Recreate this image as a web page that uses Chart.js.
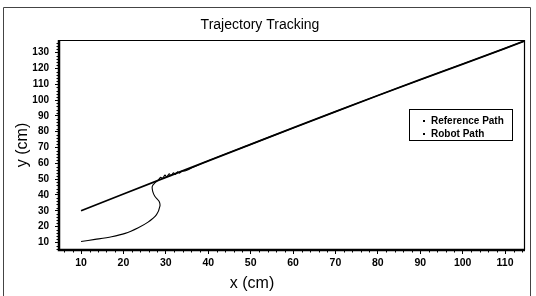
<!DOCTYPE html>
<html>
<head>
<meta charset="utf-8">
<script src="https://cdn.jsdelivr.net/npm/chart.js@4/dist/chart.umd.min.js"></script>
<style>
    html, body { margin: 0; padding: 0; background: #fff; }
    #wrap { position: relative; width: 536px; height: 296px; }
</style>
</head>
<body>
<div id="wrap"><canvas id="traj-chart" width="536" height="296"></canvas></div>
<script>
// Data
const chartTitle = 'Trajectory Tracking';
const xTitle = 'x (cm)';
const yTitle = 'y (cm)';
const seriesNames = ['Reference Path', 'Robot Path'];

const xTicks = [10, 20, 30, 40, 50, 60, 70, 80, 90, 100, 110];
const yTicks = [10, 20, 30, 40, 50, 60, 70, 80, 90, 100, 110, 120, 130];

const refX = [10, 20, 30, 40, 50, 60, 70, 80, 90, 100, 110, 114.7];
const refY = [30, 40.6, 51.1, 61.6, 72, 82.4, 92.7, 102.9, 112.9, 122.8, 132.7, 137.5];

const robotX = [10, 13.3, 17.2, 20.4, 23.5, 25.8, 27.8, 28.6, 28.4, 27.4, 26.9, 26.8, 27.4,
    28.2, 28.8, 29.2, 29.8, 30.2, 30.8, 31.2, 31.8, 32.2, 32.8, 33.2, 33.8, 34.5, 35.5,
    40, 50, 60, 70, 80, 90, 100, 110, 114.7];
const robotY = [10.6, 11.9, 13.6, 15.7, 19.3, 22.8, 27.6, 32.9, 36, 39.2, 42.3, 45.5, 47.6,
    49.4, 51.2, 50.4, 52.6, 51.4, 53.4, 52.2, 54, 53, 54.6, 53.8, 55.2, 55.2, 56.3,
    61.6, 72, 82.4, 92.7, 102.9, 112.9, 122.8, 132.7, 137.5];

const FONT = '"Liberation Sans", Arial, sans-serif';

function toPoints(xs, ys) {
    return xs.map((x, i) => ({ x: x, y: ys[i] }));
}

// Frame, plot border, minor ticks, titles and legend box
const decorPlugin = {
    id: 'decor',
    afterDraw(chart) {
        const ctx = chart.ctx;
        const a = chart.chartArea;
        const xs = chart.scales.x;
        const ys = chart.scales.y;
        ctx.save();

        // outer frame
        ctx.lineWidth = 1;
        ctx.strokeStyle = '#444';
        ctx.beginPath();
        ctx.moveTo(3.5, 296); ctx.lineTo(3.5, 7.5); ctx.lineTo(530.5, 7.5); ctx.lineTo(530.5, 296);
        ctx.stroke();

        // plot border
        ctx.strokeStyle = '#000';
        ctx.lineWidth = 1.2;
        ctx.beginPath();
        ctx.moveTo(a.left, a.top + 0.5); ctx.lineTo(a.right - 0.5, a.top + 0.5); ctx.lineTo(a.right - 0.5, a.bottom);
        ctx.stroke();
        ctx.lineWidth = 2.5;
        ctx.beginPath();
        ctx.moveTo(a.left, a.top); ctx.lineTo(a.left, a.bottom); ctx.lineTo(a.right, a.bottom);
        ctx.stroke();

        // minor ticks
        ctx.lineWidth = 1;
        ctx.beginPath();
        for (let v = 6; v <= 114; v += 2) {
            if (v % 10 === 0) continue;
            const px = Math.round(xs.getPixelForValue(v)) + 0.5;
            ctx.moveTo(px, a.bottom); ctx.lineTo(px, a.bottom + 2.5);
        }
        for (let v = 6; v <= 136; v += 2) {
            if (v % 10 === 0) continue;
            const py = Math.round(ys.getPixelForValue(v)) + 0.5;
            ctx.moveTo(a.left, py); ctx.lineTo(a.left - 2.5, py);
        }
        ctx.stroke();

        // titles
        ctx.fillStyle = '#000';
        ctx.textAlign = 'center';
        ctx.textBaseline = 'middle';
        ctx.font = '14px ' + FONT;
        ctx.fillText(chartTitle, 260, 25);
        ctx.font = '16px ' + FONT;
        ctx.fillText(xTitle, 252, 284);
        ctx.save();
        ctx.translate(23, (a.top + a.bottom) / 2);
        ctx.rotate(-Math.PI / 2);
        ctx.fillText(yTitle, 0, 0);
        ctx.restore();

        // legend
        ctx.lineWidth = 1;
        ctx.strokeRect(409.5, 109.5, 103, 31);
        ctx.font = 'bold 10px ' + FONT;
        ctx.textAlign = 'left';
        seriesNames.forEach((name, i) => {
            const y = 121 + i * 13;
            ctx.fillRect(423, y - 1, 2, 2);
            ctx.fillText(name, 431, y);
        });
        ctx.restore();
    }
};

function initializeChart() {
    const ctx = document.getElementById('traj-chart').getContext('2d');
    return new Chart(ctx, {
        type: 'scatter',
        data: {
            datasets: [
                {
                    label: seriesNames[0],
                    data: toPoints(refX, refY),
                    showLine: true,
                    borderColor: '#000',
                    borderWidth: 1.8,
                    pointRadius: 0,
                    tension: 0
                },
                {
                    label: seriesNames[1],
                    data: toPoints(robotX, robotY),
                    showLine: true,
                    borderColor: '#000',
                    borderWidth: 1.1,
                    pointRadius: 0,
                    tension: 0.3
                }
            ]
        },
        options: {
            responsive: false,
            animation: false,
            layout: { padding: { left: 0, right: 11, top: 40, bottom: 0 } },
            plugins: {
                legend: { display: false },
                title: { display: false },
                tooltip: { enabled: false }
            },
            scales: {
                x: {
                    type: 'linear',
                    min: 4.8,
                    max: 114.7,
                    afterBuildTicks: (s) => { s.ticks = xTicks.map(v => ({ value: v })); },
                    afterFit: (s) => { s.height = 46; },
                    border: { display: false },
                    grid: { drawOnChartArea: false, drawTicks: true, tickLength: 4, color: '#000' },
                    ticks: { color: '#000', font: { family: FONT, size: 10.5, weight: 'bold' }, padding: 3, maxRotation: 0, autoSkip: false }
                },
                y: {
                    type: 'linear',
                    min: 5.2,
                    max: 138,
                    afterBuildTicks: (s) => { s.ticks = yTicks.map(v => ({ value: v })); },
                    afterFit: (s) => { s.width = 59; },
                    border: { display: false },
                    grid: { drawOnChartArea: false, drawTicks: true, tickLength: 4, color: '#000' },
                    ticks: { color: '#000', font: { family: FONT, size: 10, weight: 'bold' }, padding: 6, autoSkip: false }
                }
            }
        },
        plugins: [decorPlugin]
    });
}

initializeChart();
</script>
</body>
</html>
